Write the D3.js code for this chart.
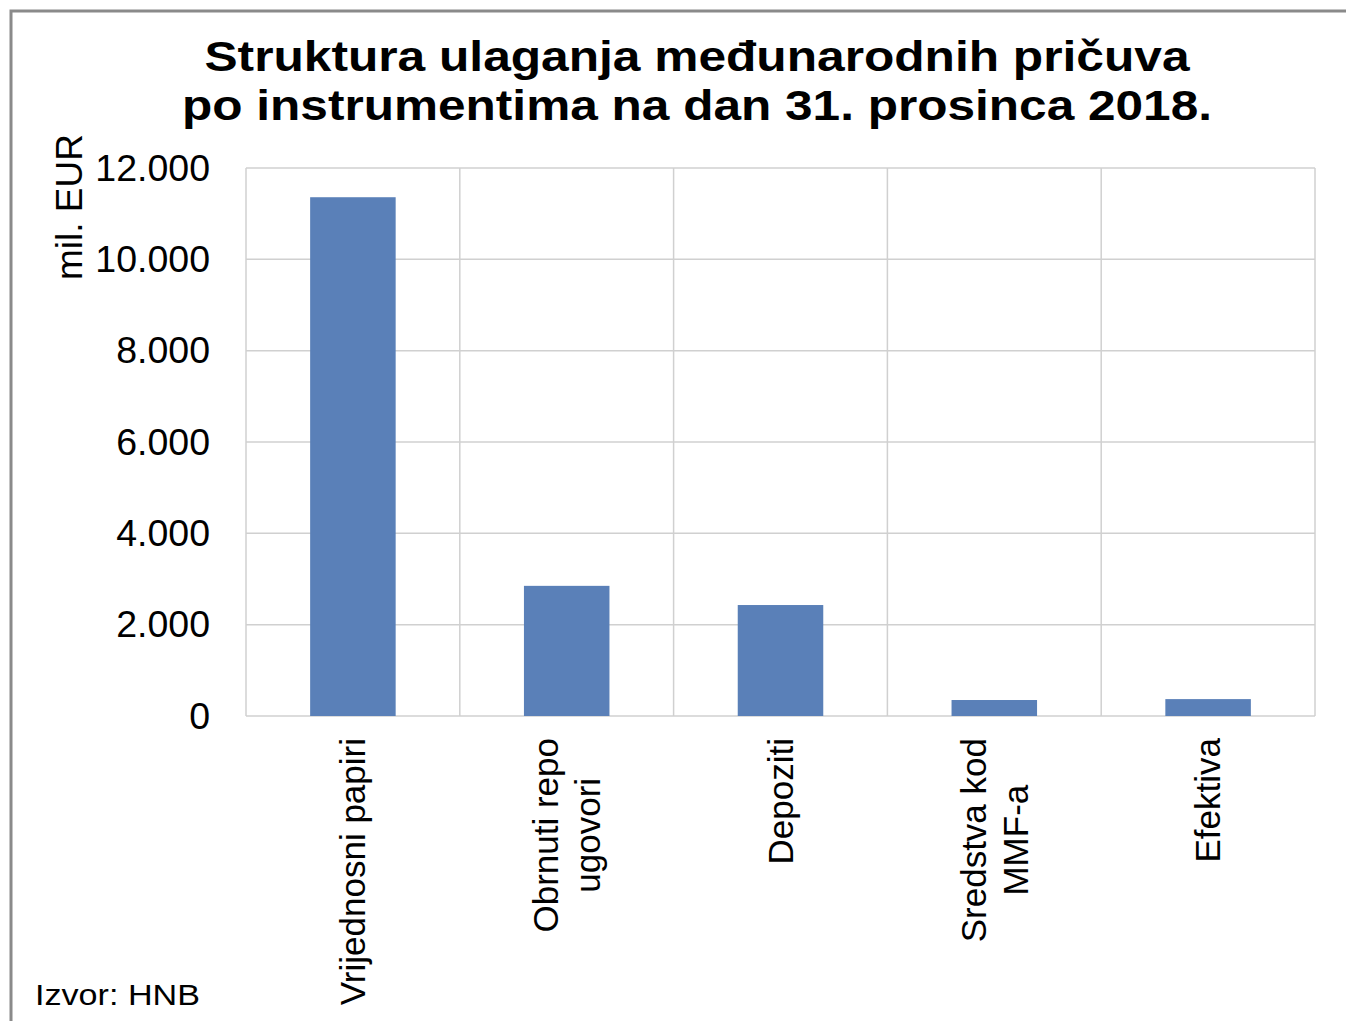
<!DOCTYPE html>
<html>
<head>
<meta charset="utf-8">
<script src="https://cdn.jsdelivr.net/npm/d3@7"></script>
<style>
  html, body { margin: 0; padding: 0; background: #fff; }
  svg { display: block; }
  text { font-family: "Liberation Sans", Arial, sans-serif; fill: #000; }
</style>
</head>
<body>
<svg id="chart" width="1346" height="1021"></svg>
<script>
const titleLines = ["Struktura ulaganja međunarodnih pričuva", "po instrumentima na dan 31. prosinca 2018."];
const categories = [["Vrijednosni papiri"], ["Obrnuti repo", "ugovori"], ["Depoziti"], ["Sredstva kod", "MMF-a"], ["Efektiva"]];
const values = [11360, 2850, 2430, 350, 370];
const yTicks = [0, 2000, 4000, 6000, 8000, 10000, 12000];
const yTitle = "mil. EUR";
const sourceText = "Izvor: HNB";

const svg = d3.select("#chart");
const W = 1346, H = 1021;
const plot = { left: 246, right: 1315, top: 168, bottom: 716 };

svg.append("rect").attr("x", 0).attr("y", 0).attr("width", W).attr("height", H).attr("fill", "#fff");
// outer chart border (continues beyond right/bottom edges)
svg.append("rect").attr("x", 11).attr("y", 11).attr("width", W + 20).attr("height", H + 20)
  .attr("fill", "none").attr("stroke", "#8a8a8a").attr("stroke-width", 3);

const loc = d3.formatLocale({ decimal: ",", thousands: ".", grouping: [3], currency: ["", " EUR"] });
const fmt = loc.format(",d");

const x = d3.scaleBand().domain(d3.range(categories.length)).range([plot.left, plot.right]).padding(0);
const y = d3.scaleLinear().domain([0, 12000]).range([plot.bottom, plot.top]);

// horizontal gridlines
svg.append("g").selectAll("line").data(yTicks).join("line")
  .attr("x1", plot.left).attr("x2", plot.right)
  .attr("y1", d => y(d)).attr("y2", d => y(d))
  .attr("stroke", "#d0d0d0").attr("stroke-width", 1.5);

// vertical gridlines at category boundaries
const edges = categories.map((c, i) => x(i)).concat([plot.right]);
svg.append("g").selectAll("line").data(edges).join("line")
  .attr("x1", d => d).attr("x2", d => d)
  .attr("y1", plot.top).attr("y2", plot.bottom)
  .attr("stroke", "#d0d0d0").attr("stroke-width", 1.5);

// bars
const barW = x.bandwidth() * 0.4;
svg.append("g").selectAll("rect").data(values).join("rect")
  .attr("x", (d, i) => x(i) + (x.bandwidth() - barW) / 2)
  .attr("width", barW)
  .attr("y", d => y(d))
  .attr("height", d => y(0) - y(d))
  .attr("fill", "#5a80b8");

// y axis tick labels
const yAxis = d3.axisLeft(y).tickValues(yTicks).tickFormat(fmt).tickSize(0).tickPadding(36);
const ya = svg.append("g").attr("transform", `translate(${plot.left},0)`).call(yAxis);
ya.select(".domain").remove();
ya.selectAll("text").style("font-family", '"Liberation Sans", Arial, sans-serif')
  .attr("font-size", 37.5).attr("fill", "#000");

// y axis title
svg.append("text")
  .attr("transform", "translate(82,207) rotate(-90)")
  .attr("text-anchor", "middle")
  .attr("font-size", 37)
  .text(yTitle);

// x category labels (rotated)
const lineH = 42;
const xl = svg.append("g");
categories.forEach((lines, i) => {
  const cx = x(i) + x.bandwidth() / 2;
  const t = xl.append("text").attr("font-size", 35).attr("text-anchor", "middle");
  lines.forEach((ln, j) => {
    t.append("tspan").attr("x", 0)
      .attr("y", (j - (lines.length - 1) / 2) * lineH)
      .attr("dy", "0.35em").text(ln);
  });
  let maxLen = 0;
  t.selectAll("tspan").each(function () { maxLen = Math.max(maxLen, this.getComputedTextLength()); });
  const cy = 738 + maxLen / 2;
  t.attr("transform", `translate(${cx},${cy}) rotate(-90)`);
});

// title
const tl = [{ t: titleLines[0], y: 71, len: 985 }, { t: titleLines[1], y: 120, len: 1030 }];
svg.append("g").selectAll("text").data(tl).join("text")
  .attr("x", 697).attr("y", d => d.y)
  .attr("text-anchor", "middle")
  .attr("font-size", 42).attr("font-weight", "bold")
  .attr("textLength", d => d.len).attr("lengthAdjust", "spacingAndGlyphs")
  .text(d => d.t);

// source
svg.append("text").attr("x", 35).attr("y", 1005).attr("font-size", 29)
  .attr("textLength", 165).attr("lengthAdjust", "spacingAndGlyphs")
  .text(sourceText);
</script>
</body>
</html>
